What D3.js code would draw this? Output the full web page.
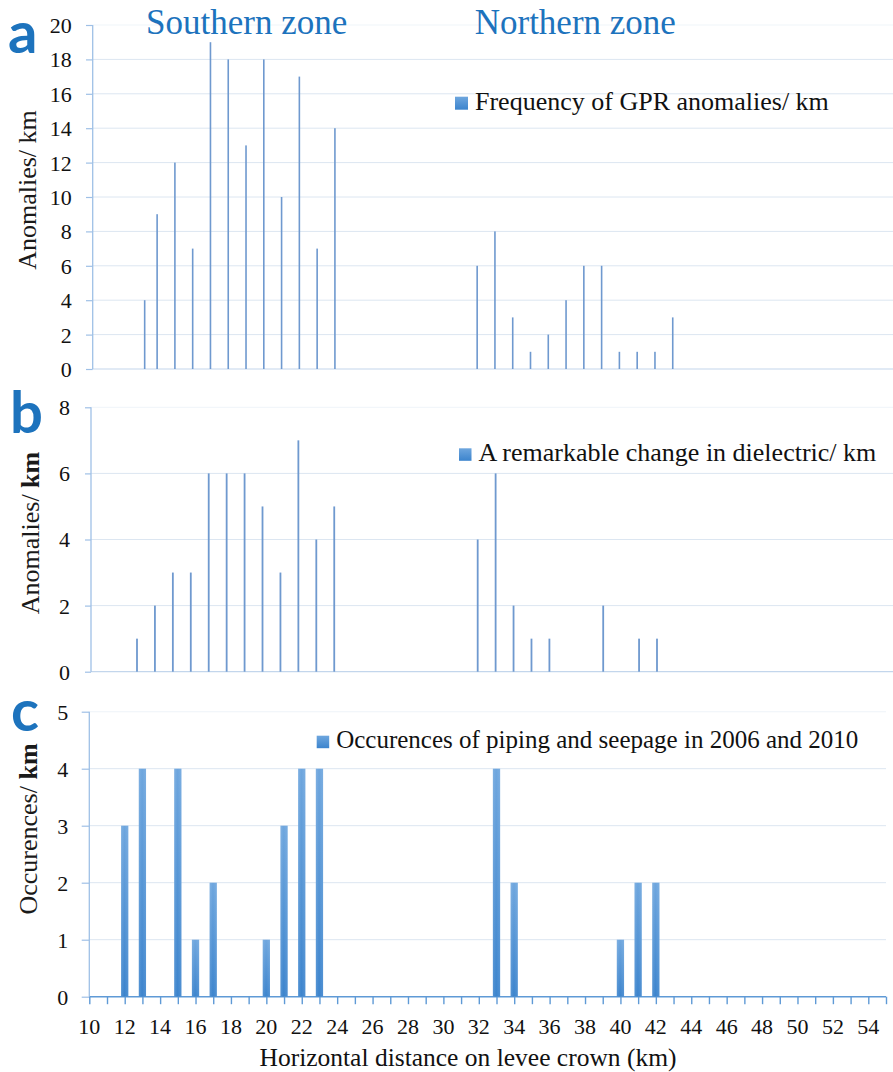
<!DOCTYPE html>
<html>
<head>
<meta charset="utf-8">
<script src="https://cdn.jsdelivr.net/npm/d3@7"></script>
<style>
  html, body { margin: 0; padding: 0; background: #ffffff; }
  svg { display: block; font-family: "Liberation Serif", "Times New Roman", serif; }
</style>
</head>
<body>
<svg id="chart" width="893" height="1072"></svg>
<script>
// Distance along the levee crown (km) and counts per km for the three surveys
const gprKm = [13.3, 14, 15, 16, 17, 18, 19, 20, 21, 22, 23, 24, 32, 33, 34, 35, 36, 37, 38, 39, 40, 41, 42, 43];
const gprCount = [4, 9, 12, 7, 19, 18, 13, 18, 10, 17, 7, 14, 6, 8, 3, 1, 2, 4, 6, 6, 1, 1, 1, 3];

const dielectricKm = [13, 14, 15, 16, 17, 18, 19, 20, 21, 22, 23, 24, 32, 33, 34, 35, 36, 39, 41, 42];
const dielectricCount = [1, 2, 3, 3, 6, 6, 6, 5, 3, 7, 4, 5, 4, 6, 2, 1, 1, 2, 1, 1];

const pipingKm = [12, 13, 15, 16, 17, 20, 21, 22, 23, 33, 34, 40, 41, 42];
const pipingCount = [3, 4, 4, 1, 2, 1, 3, 4, 4, 4, 2, 1, 2, 2];

const kmDomain = [10, 55];
const xTickLabels = ["10", "12", "14", "16", "18", "20", "22", "24", "26", "28", "30", "32",
  "34", "36", "38", "40", "42", "44", "46", "48", "50", "52", "54"];
const gprTicks = [0, 2, 4, 6, 8, 10, 12, 14, 16, 18, 20];
const dielectricTicks = [0, 2, 4, 6, 8];
const pipingTicks = [0, 1, 2, 3, 4, 5];

const seriesNames = [
  "Frequency of GPR anomalies/ km",
  "A remarkable change in dielectric/ km",
  "Occurences of piping and seepage in 2006 and 2010"
];
const zoneTitles = ["Southern zone", "Northern zone"];

const svg = d3.select("#chart");
const BLUE_TEXT = "#1d73bd";
const GRID = "#dce6f1";

// Gradient used by the thick bars and the legend swatches
const defs = svg.append("defs");
const grad = defs.append("linearGradient").attr("id", "barFill")
  .attr("x1", 0).attr("y1", 0).attr("x2", 0).attr("y2", 1);
grad.append("stop").attr("offset", "0%").attr("stop-color", "#6ea6de");
grad.append("stop").attr("offset", "100%").attr("stop-color", "#3c84cd");
const gradH = defs.append("linearGradient").attr("id", "barSheen")
  .attr("x1", 0).attr("y1", 0).attr("x2", 1).attr("y2", 0);
gradH.append("stop").attr("offset", "0%").attr("stop-color", "#ffffff").attr("stop-opacity", 0.12);
gradH.append("stop").attr("offset", "45%").attr("stop-color", "#ffffff").attr("stop-opacity", 0);
gradH.append("stop").attr("offset", "100%").attr("stop-color", "#ffffff").attr("stop-opacity", 0.1);

const panels = [
  { letter: "a", km: gprKm, vals: gprCount, ticks: gprTicks, name: seriesNames[0], legendSize: 26,
    yTitle: ["Anomalies/ km"], boldUnit: false,
    axisX: 92.7, top: 25, bottom: 369, xRange: [86, 886.1], gridRight: 893,
    tickLen: 6.7, labelEnd: 71.7, titleX: 35.7, titleY: 190,
    legend: [455, 96.7, 13], letterPos: [8, 53], stem: 1.6 },
  { letter: "b", km: dielectricKm, vals: dielectricCount, ticks: dielectricTicks, name: seriesNames[1], legendSize: 26,
    yTitle: ["Anomalies/ ", "km"], boldUnit: true,
    axisX: 91, top: 407.3, bottom: 671.7, xRange: [83.2, 890.1], gridRight: 893,
    tickLen: 6, labelEnd: 70, titleX: 39.3, titleY: 533,
    legend: [459, 448.3, 12.5], letterPos: [10, 433], stem: 1.8 },
  { letter: "c", km: pipingKm, vals: pipingCount, ticks: pipingTicks, name: seriesNames[2], legendSize: 25,
    yTitle: ["Occurences/ ", "km"], boldUnit: true,
    axisX: 89.3, top: 711.7, bottom: 996.7, xRange: [89.3, 886], gridRight: 886,
    tickLen: 7.6, labelEnd: 68.3, titleX: 37.3, titleY: 829,
    legend: [316.7, 735.7, 12.5], letterPos: [11, 731], bars: 0.41 }
];

panels.forEach(p => {
  const g = svg.append("g");
  const x = d3.scaleLinear().domain(kmDomain).range(p.xRange);
  const y = d3.scaleLinear().domain([0, d3.max(p.ticks)]).range([p.bottom, p.top]);

  // horizontal gridlines
  g.append("g").selectAll("line").data(p.ticks.slice(1)).join("line")
    .attr("x1", p.axisX).attr("x2", p.gridRight)
    .attr("y1", d => y(d)).attr("y2", d => y(d))
    .attr("stroke", GRID).attr("stroke-width", 1)
    .attr("stroke-opacity", d => d === d3.max(p.ticks) ? 0.45 : 1);

  // baseline
  const isC = !!p.bars;
  g.append("line")
    .attr("x1", p.axisX).attr("x2", p.gridRight)
    .attr("y1", y(0)).attr("y2", y(0))
    .attr("stroke", isC ? "#5f9ad6" : "#c3d6ec").attr("stroke-width", isC ? 1.6 : 1.2);

  // y axis with outward ticks
  const yAxis = d3.axisLeft(y).tickValues(p.ticks).tickSize(p.tickLen).tickPadding(0).tickFormat(d3.format("d"));
  const ya = g.append("g").attr("transform", `translate(${p.axisX},0)`).call(yAxis);
  ya.attr("font-family", null).attr("font-size", null);
  ya.select(".domain").attr("stroke", "#9fc0e6").attr("stroke-width", 1.3)
    .attr("d", `M0,${y(d3.max(p.ticks))}V${y(0)}`);
  ya.selectAll(".tick line").attr("stroke", "#9fc0e6").attr("stroke-width", 1.2);
  ya.selectAll(".tick text")
    .attr("x", p.labelEnd - p.axisX)
    .attr("dy", "0.34em")
    .attr("fill", "#111")
    .style("font-family", "'Liberation Serif', serif")
    .style("font-size", "22px");

  // marks
  if (p.bars) {
    const w = x(kmDomain[0] + p.bars) - x(kmDomain[0]);
    const bars = g.append("g").selectAll("g").data(p.km.map((k, i) => ({ k, v: p.vals[i] }))).join("g");
    bars.append("rect")
      .attr("x", d => x(d.k) - w / 2).attr("width", w)
      .attr("y", d => y(d.v)).attr("height", d => y(0) - y(d.v))
      .attr("fill", "url(#barFill)");
    bars.append("rect")
      .attr("x", d => x(d.k) - w / 2).attr("width", w)
      .attr("y", d => y(d.v)).attr("height", d => y(0) - y(d.v))
      .attr("fill", "url(#barSheen)");

    // distance axis along the bottom
    const xAxis = d3.axisBottom(x).tickValues(d3.range(kmDomain[0], kmDomain[1] + 1)).tickSize(7.5).tickFormat("");
    const xa = g.append("g").attr("transform", `translate(0,${y(0)})`).call(xAxis);
    xa.select(".domain").remove();
    xa.selectAll(".tick line").attr("stroke", "#5f9ad6").attr("stroke-width", 1.4);
    g.append("g").selectAll("text").data(xTickLabels).join("text")
      .attr("x", d => x(+d)).attr("y", 1034)
      .attr("text-anchor", "middle")
      .attr("fill", "#111")
      .style("font-size", "22px")
      .text(d => d);
    g.append("text")
      .attr("x", 468).attr("y", 1066)
      .attr("text-anchor", "middle")
      .attr("fill", "#111")
      .style("font-size", "25.5px")
      .text("Horizontal distance on levee crown (km)");
  } else {
    g.append("g").selectAll("rect").data(p.km.map((k, i) => ({ k, v: p.vals[i] }))).join("rect")
      .attr("x", d => x(d.k) - p.stem / 2).attr("width", p.stem)
      .attr("y", d => y(d.v)).attr("height", d => y(0) - y(d.v))
      .attr("fill", "#6f99cf");
  }

  // y axis title
  const t = g.append("text")
    .attr("transform", `translate(${p.titleX},${p.titleY}) rotate(-90)`)
    .attr("text-anchor", "middle")
    .attr("fill", "#1a1a1a")
    .style("font-size", "26px");
  p.yTitle.forEach((s, i) => {
    t.append("tspan").text(s).style("font-weight", (p.boldUnit && i === 1) ? "bold" : "normal");
  });

  // legend
  const [lx, ly, ls] = p.legend;
  g.append("rect").attr("x", lx).attr("y", ly).attr("width", ls).attr("height", ls).attr("fill", "url(#barFill)");
  g.append("text")
    .attr("x", lx + ls + 7).attr("y", ly + ls)
    .attr("fill", "#111")
    .style("font-size", p.legendSize + "px")
    .text(p.name);

  // panel letter
  svg.append("text")
    .attr("x", p.letterPos[0]).attr("y", p.letterPos[1])
    .attr("fill", BLUE_TEXT)
    .style("font-family", "Lato, 'Open Sans', sans-serif")
    .style("font-weight", "bold")
    .style("font-size", "58px")
    .text(p.letter);
});

// zone headings
svg.append("g").selectAll("text").data(zoneTitles).join("text")
  .attr("x", (d, i) => i === 0 ? 246.7 : 575.3)
  .attr("y", 34)
  .attr("text-anchor", "middle")
  .attr("fill", BLUE_TEXT)
  .style("font-size", "35px")
  .text(d => d);
</script>
</body>
</html>
